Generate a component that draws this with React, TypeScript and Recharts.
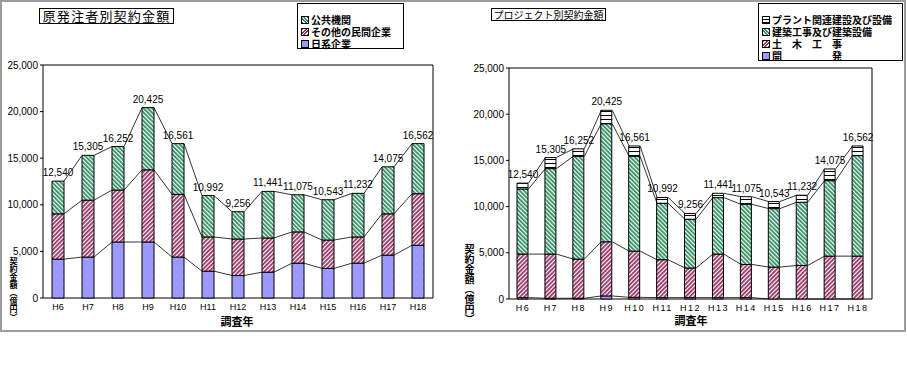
import React from "react";
import { ComposedChart, Bar, Line, XAxis, YAxis, ReferenceArea, LabelList } from "recharts";

const years = ["H6", "H7", "H8", "H9", "H10", "H11", "H12", "H13", "H14", "H15", "H16", "H17", "H18"];
const totals = [12540, 15305, 16252, 20425, 16561, 10992, 9256, 11441, 11075, 10543, 11232, 14075, 16562];

// 原発注者別 (億円)
const japaneseFirms = [4170, 4390, 6010, 6010, 4390, 2880, 2410, 2770, 3740, 3170, 3740, 4600, 5650];
const otherPrivate = [4860, 6110, 5570, 7740, 6730, 3670, 3920, 3670, 3350, 3050, 2810, 4430, 5540];
const publicAgencies = [3510, 4805, 4672, 6675, 5441, 4442, 2926, 5001, 3985, 4323, 4682, 5045, 5372];

// プロジェクト別 (億円)
const development = [150, 80, 80, 330, 180, 150, 150, 150, 150, 0, 0, 0, 0];
const civilWorks = [4710, 4780, 4240, 5860, 5000, 4100, 3200, 4710, 3590, 3450, 3630, 4640, 4640];
const buildingWorks = [7050, 9250, 11120, 12780, 10260, 6110, 5280, 6110, 6510, 6330, 6840, 8170, 10880];
const plantWorks = [630, 1195, 812, 1455, 1121, 632, 626, 471, 825, 763, 762, 1265, 1042];

const yTicks = [0, 5000, 10000, 15000, 20000, 25000];

const leftData = years.map((year, i) => ({
  year,
  japanese: japaneseFirms[i],
  other: otherPrivate[i],
  pub: publicAgencies[i],
  c1: japaneseFirms[i],
  c2: japaneseFirms[i] + otherPrivate[i],
  total: totals[i],
}));

const rightData = years.map((year, i) => ({
  year,
  dev: development[i],
  civil: civilWorks[i],
  building: buildingWorks[i],
  plant: plantWorks[i],
  c1: development[i],
  c2: development[i] + civilWorks[i],
  c3: development[i] + civilWorks[i] + buildingWorks[i],
  total: totals[i],
}));

const JP = '"Noto Sans CJK JP", sans-serif';
const NUM = '"Liberation Sans", Arial, sans-serif';
const fmt = (v: any) => Number(v).toLocaleString("en-US");

// Excel-style series lines: from the right edge of one bar to the left edge of the next
function seriesLine(barSize: number) {
  return (p: any) => {
    const { points, index, cx, cy } = p;
    const next = points && points[index + 1];
    if (!next || cx == null || cy == null) return <g key={`sl-${index}`} />;
    return (
      <line
        key={`sl-${index}`}
        x1={cx + barSize / 2}
        y1={cy}
        x2={next.x - barSize / 2}
        y2={next.y}
        stroke="#000"
        strokeWidth={0.8}
      />
    );
  };
}

function Patterns({ p }: { p: string }) {
  return (
    <defs>
      <pattern id={`${p}green`} width="3" height="3" patternUnits="userSpaceOnUse" patternTransform="rotate(-45)">
        <rect width="3" height="3" fill="#fff" />
        <rect width="1.8" height="3" fill="#2f8f5f" />
      </pattern>
      <pattern id={`${p}red`} width="3" height="3" patternUnits="userSpaceOnUse" patternTransform="rotate(45)">
        <rect width="3" height="3" fill="#fff" />
        <rect width="1.8" height="3" fill="#993366" />
      </pattern>
      <pattern id={`${p}blue`} width="6" height="8" patternUnits="userSpaceOnUse">
        <rect width="6" height="8" fill="#9999ff" />
        <rect x="2" y="3" width="1" height="1" fill="#ff99cc" />
      </pattern>
      <pattern id={`${p}plant`} width="4" height="4" patternUnits="userSpaceOnUse">
        <rect width="4" height="4" fill="#fff" />
        <rect y="3" width="4" height="1" fill="#000" />
      </pattern>
    </defs>
  );
}

const swatch = (bg: string): React.CSSProperties => ({
  position: "absolute",
  left: 3,
  top: 2,
  width: 6,
  height: 6,
  border: "1px solid #000",
  background: bg,
});

const greenBg = "repeating-linear-gradient(45deg, #2f8f5f 0 1.2px, #fff 1.2px 2.4px)";
const redBg = "repeating-linear-gradient(-45deg, #993366 0 1.2px, #fff 1.2px 2.4px)";
const blueBg = "#9999ff";
const plantBg = "repeating-linear-gradient(0deg, #000 0 1px, #fff 1px 3px)";

function LegendBox({ left, width, height, items, fontSize }: any) {
  return (
    <div
      style={{
        position: "absolute",
        left,
        top: 3,
        width,
        height,
        border: "1px solid #000",
        background: "#fff",
        boxSizing: "border-box",
        fontFamily: JP,
        fontWeight: 700,
        fontSize,
      }}
    >
      {items.map((it: any, i: number) => (
        <div key={i} style={{ position: "absolute", left: 0, top: 10 + i * 12, height: 11, width: "100%" }}>
          <div style={swatch(it.bg)} />
          <div style={{ position: "absolute", left: 13, top: 0, whiteSpace: "pre", lineHeight: "11px" }}>{it.label}</div>
        </div>
      ))}
    </div>
  );
}

const tickStyle = { fontSize: 10, fill: "#000", fontFamily: NUM };

export default function App() {
  return (
    <div style={{ position: "absolute", left: 0, top: 0, width: 907, height: 384, background: "#fff" }}>
      <div
        style={{
          position: "absolute",
          left: 0,
          top: 0,
          width: 906,
          height: 332,
          border: "2px solid #9c9c9c",
          boxSizing: "border-box",
        }}
      />

      {/* left chart */}
      <div style={{ position: "absolute", left: 0, top: 0 }}>
        <ComposedChart width={450} height={331} data={leftData} margin={{ top: 65, right: 17, bottom: 13, left: 3 }}>
          <Patterns p="l" />
          <XAxis
            dataKey="year"
            interval={0}
            tickLine={false}
            tickSize={4}
            axisLine={false}
            height={20}
            tick={{ ...tickStyle, fontSize: 9 }}
          />
          <YAxis
            domain={[0, 25000]}
            ticks={yTicks}
            width={40}
            axisLine={false}
            tickSize={3}
            tickLine={{ stroke: "#000" }}
            tickFormatter={fmt}
            tick={tickStyle}
          />
          <ReferenceArea y1={0} y2={25000} fill="none" stroke="#000" strokeWidth={1} ifOverflow="visible" />
          <Bar dataKey="japanese" stackId="s" barSize={12} fill="url(#lblue)" stroke="#000" strokeWidth={1} isAnimationActive={false} />
          <Bar dataKey="other" stackId="s" barSize={12} fill="url(#lred)" stroke="#000" strokeWidth={1} isAnimationActive={false} />
          <Bar dataKey="pub" stackId="s" barSize={12} fill="url(#lgreen)" stroke="#000" strokeWidth={1} isAnimationActive={false} />
          <Line dataKey="c1" stroke="none" dot={seriesLine(12)} activeDot={false} isAnimationActive={false} />
          <Line dataKey="c2" stroke="none" dot={seriesLine(12)} activeDot={false} isAnimationActive={false} />
          <Line dataKey="total" stroke="none" dot={seriesLine(12)} activeDot={false} isAnimationActive={false}>
            <LabelList dataKey="total" position="top" offset={5} formatter={fmt} fill="#000" fontSize={10} fontFamily={NUM} />
          </Line>
        </ComposedChart>
      </div>

      {/* right chart */}
      <div style={{ position: "absolute", left: 455, top: 0 }}>
        <ComposedChart width={450} height={331} data={rightData} margin={{ top: 68, right: 33, bottom: 12, left: 4 }}>
          <Patterns p="r" />
          <XAxis
            dataKey="year"
            interval={0}
            tickLine={false}
            tickSize={4}
            axisLine={false}
            height={20}
            tick={{ ...tickStyle, fontSize: 9, letterSpacing: 1.5 }}
          />
          <YAxis
            domain={[0, 25000]}
            ticks={yTicks}
            width={50}
            axisLine={false}
            tickSize={3}
            tickLine={{ stroke: "#000" }}
            tickFormatter={fmt}
            tick={tickStyle}
          />
          <ReferenceArea y1={0} y2={25000} fill="none" stroke="#000" strokeWidth={1} ifOverflow="visible" />
          <Bar dataKey="dev" stackId="s" barSize={11} fill="url(#rblue)" stroke="#000" strokeWidth={1} isAnimationActive={false} />
          <Bar dataKey="civil" stackId="s" barSize={11} fill="url(#rred)" stroke="#000" strokeWidth={1} isAnimationActive={false} />
          <Bar dataKey="building" stackId="s" barSize={11} fill="url(#rgreen)" stroke="#000" strokeWidth={1} isAnimationActive={false} />
          <Bar dataKey="plant" stackId="s" barSize={11} fill="url(#rplant)" stroke="#000" strokeWidth={1} isAnimationActive={false} />
          <Line dataKey="c1" stroke="none" dot={seriesLine(11)} activeDot={false} isAnimationActive={false} />
          <Line dataKey="c2" stroke="none" dot={seriesLine(11)} activeDot={false} isAnimationActive={false} />
          <Line dataKey="c3" stroke="none" dot={seriesLine(11)} activeDot={false} isAnimationActive={false} />
          <Line dataKey="total" stroke="none" dot={seriesLine(11)} activeDot={false} isAnimationActive={false}>
            <LabelList dataKey="total" position="top" offset={5} formatter={fmt} fill="#000" fontSize={10} fontFamily={NUM} />
          </Line>
        </ComposedChart>
      </div>

      {/* titles */}
      <div
        style={{
          position: "absolute",
          left: 39,
          top: 8,
          width: 135,
          height: 16,
          border: "1px solid #000",
          boxSizing: "border-box",
          fontFamily: JP,
          fontSize: 13,
          lineHeight: "14px",
          letterSpacing: 1.2,
          textAlign: "center",
          whiteSpace: "nowrap",
        }}
      >
        原発注者別契約金額
      </div>
      <div
        style={{
          position: "absolute",
          left: 491,
          top: 8,
          width: 115,
          height: 13,
          border: "1px solid #000",
          boxSizing: "border-box",
          fontFamily: JP,
          fontSize: 10,
          lineHeight: "11px",
          textAlign: "center",
          whiteSpace: "nowrap",
        }}
      >
        プロジェクト別契約金額
      </div>

      {/* legends */}
      <LegendBox
        left={297}
        width={107}
        height={46}
        fontSize={10}
        items={[
          { label: "公共機関", bg: greenBg },
          { label: "その他の民間企業", bg: redBg },
          { label: "日系企業", bg: blueBg },
        ]}
      />
      <LegendBox
        left={758}
        width={145}
        height={58}
        fontSize={10}
        items={[
          { label: "プラント関連建設及び設備", bg: plantBg },
          { label: "建築工事及び建築設備", bg: greenBg },
          { label: "土　木　工　事", bg: redBg },
          { label: "開　　　　　発", bg: blueBg },
        ]}
      />

      {/* axis titles */}
      <div
        style={{
          position: "absolute",
          left: 8,
          top: 257,
          writingMode: "vertical-rl",
          fontFamily: JP,
          fontWeight: 700,
          fontSize: 8,
          lineHeight: "10px",
        }}
      >
        契約金額（億円）
      </div>
      <div
        style={{
          position: "absolute",
          left: 463,
          top: 244,
          writingMode: "vertical-rl",
          fontFamily: JP,
          fontWeight: 700,
          fontSize: 10,
          lineHeight: "12px",
        }}
      >
        契約金額（億円）
      </div>
      <div
        style={{
          position: "absolute",
          left: 207,
          top: 315,
          width: 60,
          textAlign: "center",
          fontFamily: JP,
          fontWeight: 700,
          fontSize: 11,
          lineHeight: "13px",
        }}
      >
        調査年
      </div>
      <div
        style={{
          position: "absolute",
          left: 661,
          top: 314,
          width: 60,
          textAlign: "center",
          fontFamily: JP,
          fontWeight: 700,
          fontSize: 11,
          lineHeight: "13px",
        }}
      >
        調査年
      </div>
    </div>
  );
}
